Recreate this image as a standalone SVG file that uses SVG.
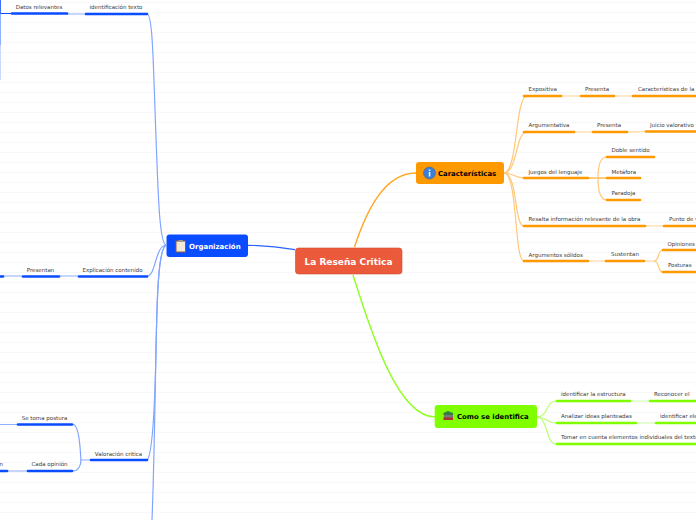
<svg xmlns="http://www.w3.org/2000/svg" width="696" height="520" viewBox="0 0 696 520">
<style>
.grid{stroke:#f8f8f8;stroke-width:1}
text{font-family:"DejaVu Sans",Verdana,sans-serif}
.t{font-size:5.5px;fill:#3a3a3a}
.n{font-size:6.9px;font-weight:bold;fill:#000}
.nw{font-size:7px;font-weight:bold;fill:#fff}
.c{fill:none;stroke-linecap:round}
.bu{stroke:#0a4cff;stroke-width:2.6}
.or{stroke:#ff9900;stroke-width:2.6}
.gr{stroke:#80ff00;stroke-width:2.6}
.blt{stroke:#80a5ff;stroke-width:1.2;fill:none}
.blm{stroke:#b8ccff;stroke-width:1.6;fill:none}
.olt{stroke:#ffc878;stroke-width:1.2;fill:none}
.olm{stroke:#ffe0b3;stroke-width:1.4;fill:none}
.glt{stroke:#b8ff70;stroke-width:1.2;fill:none}
.glm{stroke:#dcffc0;stroke-width:1.4;fill:none}
</style>
<rect width="696" height="520" fill="#fff"/>
<g id="grid">
<path class="grid" d="M0 2.5H696M0 12.5H696M0 22.5H696M0 32.5H696M0 42.5H696M0 52.5H696M0 62.5H696M0 72.5H696M0 82.5H696M0 92.5H696M0 102.5H696M0 112.5H696M0 122.5H696M0 132.5H696M0 142.5H696M0 152.5H696M0 162.5H696M0 172.5H696M0 182.5H696M0 192.5H696M0 202.5H696M0 212.5H696M0 222.5H696M0 232.5H696M0 242.5H696M0 252.5H696M0 262.5H696M0 272.5H696M0 282.5H696M0 292.5H696M0 302.5H696M0 312.5H696M0 322.5H696M0 332.5H696M0 342.5H696M0 352.5H696M0 362.5H696M0 372.5H696M0 382.5H696M0 392.5H696M0 402.5H696M0 412.5H696M0 422.5H696M0 432.5H696M0 442.5H696M0 452.5H696M0 462.5H696M0 472.5H696M0 482.5H696M0 492.5H696M0 502.5H696M0 512.5H696"/>
</g>
<g id="connectors">
<path d="M354.500 247C366 212 384 173 416 173" fill="none" stroke="#ffa51f" stroke-width="1.4"/>
<path d="M295 249.700C280 247 265 245.500 248 245.300" fill="none" stroke="#2a62ff" stroke-width="1.2"/>
<path d="M353 275C368 322 396 417 435 417" fill="none" stroke="#8fff1f" stroke-width="1.4"/>
<path class="blt" d="M166 245C159 243 158 190 155 110C153 50 152 14 147 14"/>
<path class="blt" d="M166 245C155 246 156 276 147 276"/>
<path class="blt" d="M166 245C158 250 157 300 156 350C155 400 153 455 147 460"/>
<path class="blt" d="M166 245C158 250 157 300 156 350C155 400 154 470 152 520"/>
<path class="blm" d="M67 14H86"/>
<path class="blm" d="M60 276H78"/>
<path class="blm" d="M0 276H22"/>
<path class="blm" d="M80 460H90"/>
<path class="blt" d="M73 424C79 426 80 445 81 460C81 466 78 471 73 471"/>
<path class="blm" d="M8 471H27"/>
<path d="M0 13.500H11" stroke="#0a4cff" stroke-width="1" fill="none"/>
<path d="M.5 0V14" stroke="#3f70ff" stroke-width="1" fill="none"/>
<path d="M.5 14V45" stroke="#8fb0ff" stroke-width="1" fill="none"/>
<path d="M.5 45V80" stroke="#c8d8ff" stroke-width="1" fill="none"/>
<path d="M0 424.500H17" stroke="#8fb0ff" stroke-width="1" fill="none"/>
<path class="olt" d="M504 173C518 172 515 96 527 96"/>
<path class="olt" d="M504 173C518 172 515 132 527 132"/>
<path class="olt" d="M504 173C512 173 516 178 524 178"/>
<path class="olt" d="M504 173C518 174 514 226 524 226"/>
<path class="olt" d="M504 173C518 174 514 261 524 261"/>
<path class="olm" d="M562 96H580"/>
<path class="olm" d="M614 96H632"/>
<path class="olm" d="M575 132H592"/>
<path class="olm" d="M627 132C633 132 637 132 645 131.500"/>
<path d="M588 178H607" stroke="#ff9900" stroke-width="1" fill="none"/>
<path class="olt" d="M607 157C600 157 598 165 598 178C598 191 600 200 607 200"/>
<path class="olm" d="M646 226H664"/>
<path class="olm" d="M588 261H606"/>
<path class="olm" d="M644 261H654"/>
<path class="olt" d="M654 261C660 261 657 250 663 250"/>
<path class="olt" d="M654 261C660 261 657 272 663 272"/>
<path class="glt" d="M537 417C548 417 546 401 556 401"/>
<path class="glt" d="M537 417C546 417 547 423 556 423"/>
<path class="glt" d="M537 417C548 418 546 444 556 444"/>
<path class="glm" d="M631 401H649"/>
<path class="glm" d="M637 423H655"/>
</g>
<g id="root"><rect x="295.500" y="248" width="106.500" height="26" rx="3" fill="#ec5a3c" stroke="#d44a2e" stroke-width=".6"/><text x="348.500" y="264.800" text-anchor="middle" font-size="9" font-weight="bold" fill="#fff">La Reseña Critica</text></g>
<g id="caracteristicas"><rect x="416" y="162" width="88" height="22" rx="3" fill="#ff9900"/><circle cx="429.500" cy="173" r="6" fill="#3b7fd9" stroke="#2a5ea8" stroke-width=".5"/><rect x="428.800" y="172" width="1.500" height="4.500" fill="#fff"/><rect x="428.800" y="169.500" width="1.500" height="1.500" fill="#fff"/><text x="438" y="176.300" class="n">Características</text></g>
<g id="organizacion"><rect x="166.500" y="234.500" width="81.500" height="22.500" rx="3" fill="#0a4cff"/><rect x="176" y="241" width="9.500" height="11" fill="#f2e9da" stroke="#8a5a3a"/><rect x="178.500" y="240" width="4.500" height="2" fill="#999"/><text x="189" y="249" class="nw">Organización</text></g>
<g id="identifica"><rect x="434.700" y="405" width="102.300" height="23" rx="3" fill="#80ff00"/><rect x="443.500" y="417" width="9.500" height="3" fill="#b03030"/><rect x="444" y="414.500" width="9" height="3" fill="#777"/><path d="M443.500 413L448 411L453 413V415H443.500Z" fill="#2f7f3f"/><text x="457" y="419.300" class="n">Como se identifica</text></g>
<g id="n-identificacion-texto"><path class="c bu" d="M86 14H147"/><text x="116" y="9" text-anchor="middle" class="t">identificación texto</text></g>
<g id="n-datos"><path class="c bu" d="M12 13.500H67"/><text x="39" y="9" text-anchor="middle" class="t">Datos relevantes</text></g>
<g id="n-explicacion"><path class="c bu" d="M79 276.500H147"/><text x="112.500" y="272" text-anchor="middle" class="t">Explicación contenido</text></g>
<g id="n-presentan"><path class="c bu" d="M23 276.500H59"/><text x="40.500" y="272" text-anchor="middle" class="t">Presentan</text></g>
<g id="n-stub1"><path class="c bu" d="M-2 276.500H3"/></g>
<g id="n-valoracion"><path class="c bu" d="M91 460H147"/><text x="118.500" y="455.500" text-anchor="middle" class="t">Valoración critica</text></g>
<g id="n-postura"><path class="c bu" d="M18 424.500H72"/><text x="44.500" y="420" text-anchor="middle" class="t">Se toma postura</text></g>
<g id="n-opinion"><path class="c bu" d="M28 471H72"/><text x="49.500" y="466" text-anchor="middle" class="t">Cada opinión</text></g>
<g id="n-stub2"><path class="c bu" d="M-2 471H7"/><text x="3" y="466" text-anchor="end" class="t">n</text></g>
<g id="n-expositiva"><path class="c or" d="M524 96H561"/><text x="528.500" y="91" class="t">Expositiva</text></g>
<g id="n-presenta1"><path class="c or" d="M581 96H614"/><text x="585" y="91" class="t">Presenta</text></g>
<g id="n-caract-obra"><path class="c or" d="M633 96H698"/><text x="638" y="91" class="t">Características de la o</text></g>
<g id="n-argumentativa"><path class="c or" d="M524 132H574"/><text x="528.500" y="127" class="t">Argumentativa</text></g>
<g id="n-presenta2"><path class="c or" d="M593 132H627"/><text x="597" y="127" class="t">Presenta</text></g>
<g id="n-juicio"><path class="c or" d="M646 131.500H698"/><text x="650" y="127" class="t">Juicio valorativo</text></g>
<g id="n-juegos"><path class="c or" d="M524 178H588"/><text x="528.500" y="174" class="t">Juegos del lenguaje</text></g>
<g id="n-doble"><path class="c or" d="M607 157H654"/><text x="611.500" y="152" class="t">Doble sentido</text></g>
<g id="n-metafora"><path class="c or" d="M607 178H640"/><text x="611.500" y="174" class="t">Metáfora</text></g>
<g id="n-paradoja"><path class="c or" d="M607 200H640"/><text x="611.500" y="195" class="t">Paradoja</text></g>
<g id="n-resalta"><path class="c or" d="M524 226H645"/><text x="528.500" y="221" class="t">Resalta información relevante de la obra</text></g>
<g id="n-punto"><path class="c or" d="M664 226H698"/><text x="669" y="221" class="t">Punto de v</text></g>
<g id="n-argumentos"><path class="c or" d="M524 261H588"/><text x="528.500" y="257" class="t">Argumentos sólidos</text></g>
<g id="n-sustentan"><path class="c or" d="M606 261H644"/><text x="611" y="256" class="t">Sustentan</text></g>
<g id="n-opiniones"><path class="c or" d="M663 250H698"/><text x="667.500" y="246" class="t">Opiniones</text></g>
<g id="n-posturas"><path class="c or" d="M663 272H698"/><text x="668" y="267" class="t">Posturas</text></g>
<g id="n-estructura"><path class="c gr" d="M557 401H630"/><text x="561" y="396" class="t">identificar la estructura</text></g>
<g id="n-reconocer"><path class="c gr" d="M650 401H698"/><text x="654" y="396" class="t">Reconocer el</text></g>
<g id="n-analizar"><path class="c gr" d="M557 423H636"/><text x="561" y="418" class="t">Analizar ideas planteadas</text></g>
<g id="n-identificar-el"><path class="c gr" d="M656 423H698"/><text x="660" y="418" class="t">identificar ele</text></g>
<g id="n-tomar"><path class="c gr" d="M557 444H698"/><text x="561" y="439" class="t">Tomar en cuenta elementos individuales del texto</text></g>
</svg>
